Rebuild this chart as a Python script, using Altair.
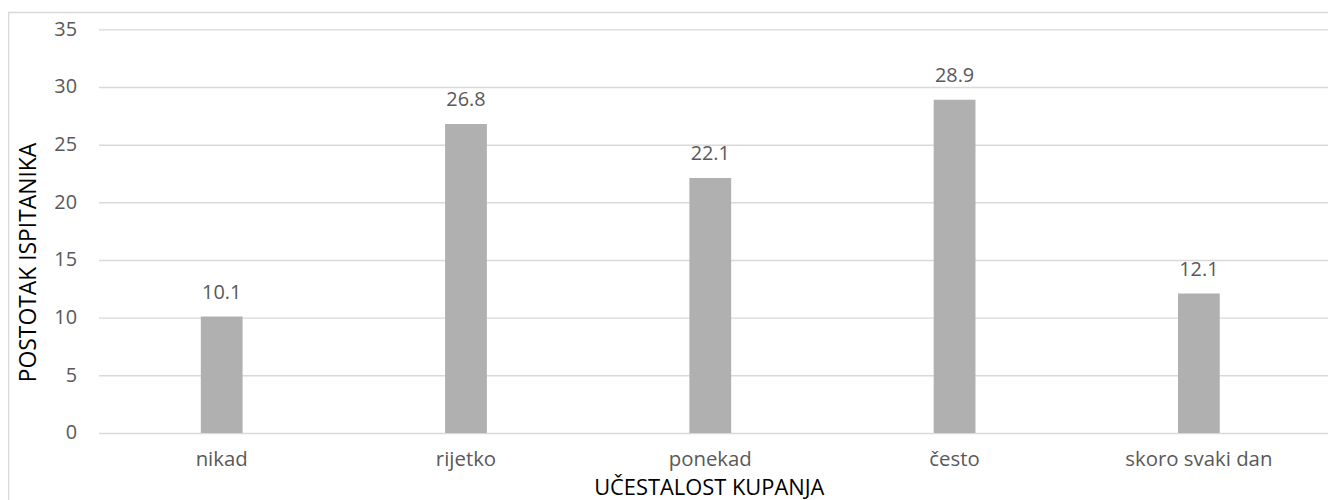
import altair as alt
import pandas as pd

categories = ["nikad", "rijetko", "ponekad", "često", "skoro svaki dan"]
values = [10.1, 26.8, 22.1, 28.9, 12.1]
y_ticks = [0, 5, 10, 15, 20, 25, 30, 35]

df = pd.DataFrame({"cat": categories, "val": values})

FONT = "Open Sans"
GRID = "#d9d9d9"
TXT = "#595959"

W, H = 1237, 406

x_enc = alt.X("cat:N", sort=categories,
              scale=alt.Scale(paddingInner=0.829, paddingOuter=0.431, align=0.486),
              axis=alt.Axis(title="UČESTALOST KUPANJA", labelAngle=0, ticks=False,
                            domain=False, labelPadding=17, labelFontSize=20.5,
                            labelColor=TXT, labelFont=FONT, titleFont=FONT,
                            titleFontSize=22, titleFontWeight="normal", titleColor="black",
                            titleY=55, titleX=614, titleBaseline="middle"))
y_enc = alt.Y("val:Q", scale=alt.Scale(domain=[0, 35]),
              axis=alt.Axis(title="POSTOTAK ISPITANIKA", values=y_ticks, ticks=False,
                            domain=False, grid=True, gridColor=GRID, gridWidth=1.5,
                            labelPadding=22, labelFontSize=20, labelColor=TXT,
                            labelFont=FONT, titleFont=FONT, titleFontSize=23,
                            titleFontWeight="normal", titleColor="black",
                            titleX=-70, titleY=234, titleAngle=-90,
                            titleAlign="center", titleBaseline="middle"))

bars = alt.Chart(df).mark_bar(color="#b0b0b0").encode(x=x_enc, y=y_enc)
labels = alt.Chart(df).mark_text(dy=-18, baseline="alphabetic", font=FONT,
                                 fontSize=20, color=TXT).encode(
    x=alt.X("cat:N", sort=categories), y="val:Q", text=alt.Text("val:Q", format=".1f"))

border = alt.Chart(alt.Data(values=[{}])).mark_rect(
    fill=None, fillOpacity=0, stroke=GRID, strokeWidth=1.5).encode(
    x=alt.value(-90.5), x2=alt.value(1260), y=alt.value(-17), y2=alt.value(485))

chart = alt.layer(border, bars, labels).properties(
    width=W, height=H,
    autosize=alt.AutoSizeParams(type="none"),
    padding={"left": 91, "top": 20, "right": 0, "bottom": 70},
).configure_view(stroke=None)

chart.save("out.html", embed_options={"renderer": "svg", "actions": False})
